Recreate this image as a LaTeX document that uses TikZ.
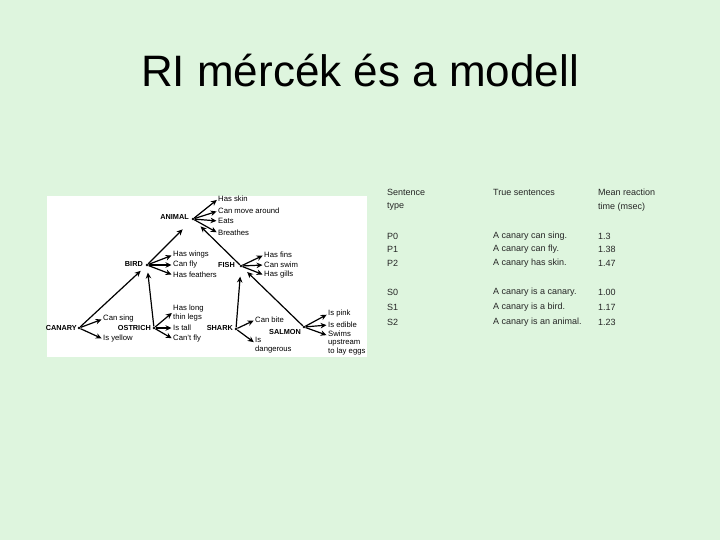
\documentclass[tikz,border=0pt]{standalone}
\usepackage{fontspec}
\setmainfont{Liberation Sans}
\usetikzlibrary{arrows.meta}
\definecolor{bg}{RGB}{222,245,222}
\begin{document}
\begin{tikzpicture}[x=1pt,y=-1pt,
  title/.style={font=\fontsize{44}{50}\selectfont, anchor=base, inner sep=0},
  tcell/.style={font=\fontsize{9}{10}\selectfont, anchor=west, inner sep=0, text=black!85},
  dot/.style={circle, fill=black, inner sep=0, minimum size=2.8pt},
  capname/.style={font=\fontsize{7.3}{8.5}\selectfont\bfseries, anchor=east, inner sep=0},
  lbl/.style={font=\fontsize{7.7}{8.6}\selectfont, anchor=west, inner sep=0, align=left},
  arr/.style={line width=1.2pt, -{Stealth[length=6pt,width=5.5pt]}, shorten >=1.5pt}
]
\useasboundingbox (0,0) rectangle (720,540);
\fill[bg] (0,0) rectangle (720,540);

\node[title] (ttl) at (360,87) {RI mércék és a modell};

% picture panel
\fill[white] (47,196) rectangle (367,357);

% dots
\node[dot] (animal) at (193,219) {};
\node[dot] (bird) at (147,265) {};
\node[dot] (fish) at (241,266) {};
\node[dot] (canary) at (79,328) {};
\node[dot] (ostrich) at (154,328) {};
\node[dot] (shark) at (236,329) {};
\node[dot] (salmon) at (304,327) {};

% caps labels
\node[capname] (tanimal) at (189,217) {ANIMAL};
\node[capname] (tbird) at (143,264) {BIRD};
\node[capname] (tfish) at (235,265) {FISH};
\node[capname] (tcanary) at (77,328) {CANARY};
\node[capname] (tostrich) at (151,328) {OSTRICH};
\node[capname] (tshark) at (233,328) {SHARK};
\node[capname] (tsalmon) at (301,332) {SALMON};

% property labels
\node[lbl] (skin) at (218,199) {Has skin};
\node[lbl] (move) at (218,211) {Can move around};
\node[lbl] (eats) at (218,221) {Eats};
\node[lbl] (breath) at (218,233) {Breathes};

\node[lbl] (wings) at (173,255) {Has wings};
\node[lbl] (fly) at (173,265) {Can fly};
\node[lbl] (feath) at (173,275) {Has feathers};

\node[lbl] (fins) at (264,255) {Has fins};
\node[lbl] (swim) at (264,265) {Can swim};
\node[lbl] (gills) at (264,275) {Has gills};

\node[lbl] (sing) at (103,319) {Can sing};
\node[lbl] (yellow) at (103,339) {Is yellow};

\node[lbl] (legs) at (173,313) {Has long\\thin legs};
\node[lbl] (tall) at (173,328) {Is tall};
\node[lbl] (cantfly) at (173,339) {Can't fly};

\node[lbl] (bite) at (255,320) {Can bite};
\node[lbl] (dang) at (255,345) {Is\\dangerous};

\node[lbl] (pink) at (328,314) {Is pink};
\node[lbl] (edible) at (328,325) {Is edible};
\node[lbl] (swims) at (328,343) {Swims\\upstream\\to lay eggs};

% hierarchy arrows
\draw[arr, shorten >=13pt] (bird) -- (animal);
\draw[arr, shorten >=9pt] (fish) -- (animal);
\draw[arr, shorten >=7pt] (canary) -- (bird);
\draw[arr, shorten >=6pt] (ostrich) -- (bird);
\draw[arr, shorten >=9pt] (shark) -- (fish);
\draw[arr, shorten >=7pt] (salmon) -- (fish);

% property arrows
\draw[arr] (animal) -- (skin.west);
\draw[arr] (animal) -- (move.west);
\draw[arr] (animal) -- (eats.west);
\draw[arr] (animal) -- (breath.west);
\draw[arr] (bird) -- (wings.west);
\draw[arr] (bird) -- (fly.west);
\draw[arr] (bird) -- (feath.west);
\draw[arr] (fish) -- (fins.west);
\draw[arr] (fish) -- (swim.west);
\draw[arr] (fish) -- (gills.west);
\draw[arr] (canary) -- (sing.west);
\draw[arr] (canary) -- (yellow.west);
\draw[arr] (ostrich) -- ([yshift=1pt]legs.west);
\draw[arr] (ostrich) -- (tall.west);
\draw[arr] (ostrich) -- (cantfly.west);
\draw[arr] (shark) -- (bite.west);
\draw[arr] (shark) -- ([yshift=-6pt]dang.north west);
\draw[arr] (salmon) -- (pink.west);
\draw[arr] (salmon) -- (edible.west);
\draw[arr] (salmon) -- ([yshift=-5pt]swims.north west);

% table
\node[tcell] (h1a) at (387,192) {Sentence};
\node[tcell] (h1b) at (387,207) {type};
\node[tcell] (h2) at (493,192) {True sentences};
\node[tcell] (h3a) at (598,192) {Mean reaction};
\node[tcell] (h3b) at (598,207) {time (msec)};

\node[tcell] (p0) at (387,236) {P0};
\node[tcell] (p0s) at (493,236) {A canary can sing.};
\node[tcell] (p0t) at (598,236) {1.3};
\node[tcell] (p1) at (387,249) {P1};
\node[tcell] (p1s) at (493,249) {A canary can fly.};
\node[tcell] (p1t) at (598,249) {1.38};
\node[tcell] (p2) at (387,263) {P2};
\node[tcell] (p2s) at (493,263) {A canary has skin.};
\node[tcell] (p2t) at (598,263) {1.47};

\node[tcell] (s0) at (387,292) {S0};
\node[tcell] (s0s) at (493,292) {A canary is a canary.};
\node[tcell] (s0t) at (598,292) {1.00};
\node[tcell] (s1) at (387,307) {S1};
\node[tcell] (s1s) at (493,307) {A canary is a bird.};
\node[tcell] (s1t) at (598,307) {1.17};
\node[tcell] (s2) at (387,322) {S2};
\node[tcell] (s2s) at (493,322) {A canary is an animal.};
\node[tcell] (s2t) at (598,322) {1.23};
\end{tikzpicture}
\end{document}
